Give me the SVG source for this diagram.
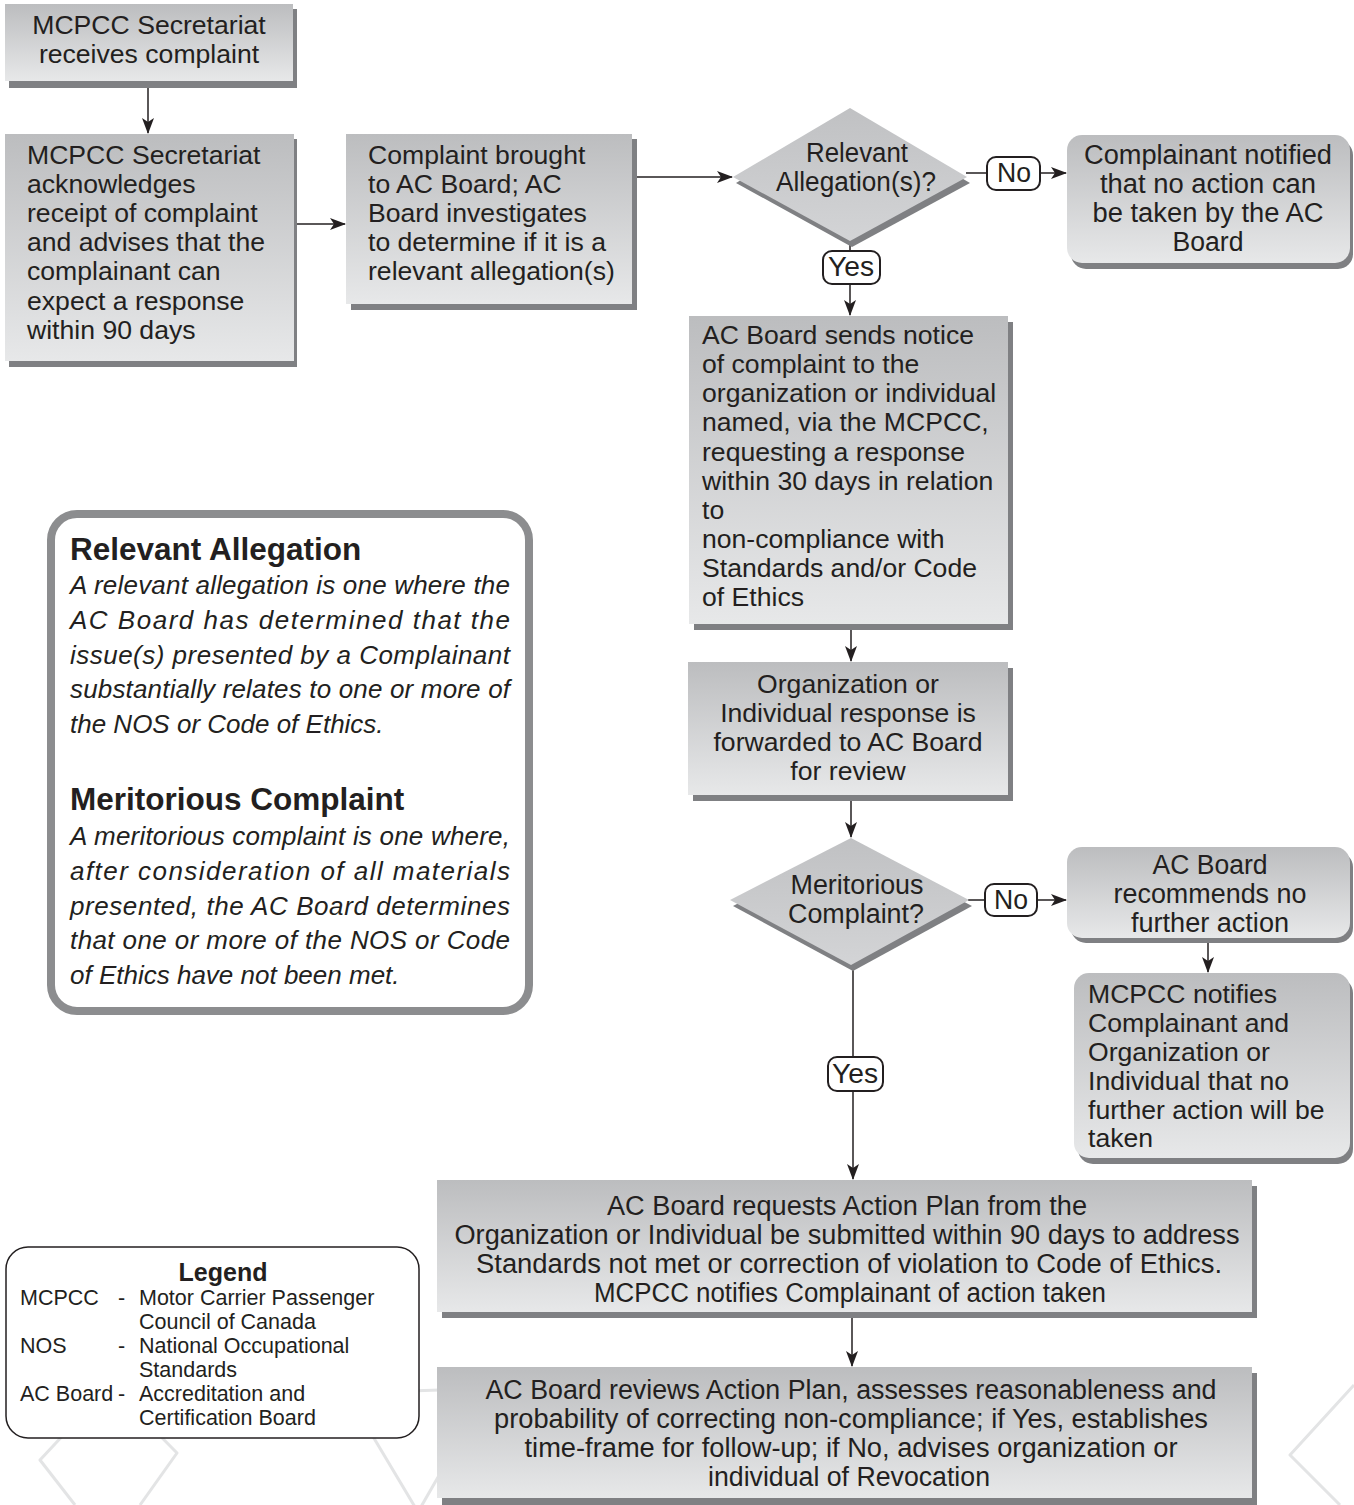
<svg xmlns="http://www.w3.org/2000/svg" width="1354" height="1505" viewBox="0 0 1354 1505">
<defs>
<linearGradient id="gbox" x1="0" y1="0" x2="0" y2="1">
<stop offset="0" stop-color="#bcbdbf"/>
<stop offset="1" stop-color="#e7e8e9"/>
</linearGradient>
<linearGradient id="gdia" x1="0" y1="0" x2="0" y2="1">
<stop offset="0" stop-color="#c0c1c3"/>
<stop offset="1" stop-color="#d3d4d6"/>
</linearGradient>
<marker id="arr" viewBox="0 0 16 12" refX="15" refY="6" markerWidth="16" markerHeight="12" markerUnits="userSpaceOnUse" orient="auto">
<path d="M0,0 L16,6 L0,12 L4,6 z" fill="#231f20"/>
</marker>
<style>
text{font-family:"Liberation Sans",Arial,sans-serif;fill:#231f20}
.t{font-size:26.6px}
.c{font-size:27px;text-anchor:middle}
.m{text-anchor:middle}
.box{fill:url(#gbox)}
.sh{fill:#7f8083}
.dia{fill:url(#gdia)}
.lbl{fill:#fff;stroke:#231f20;stroke-width:2}
.ln{stroke:#231f20;stroke-width:1.5;fill:none}
.ar{stroke:#231f20;stroke-width:1.5;fill:none;marker-end:url(#arr)}
.bg{stroke:#e3e4e5;stroke-width:3;fill:none;stroke-linejoin:round}
.it{font-size:26px;font-style:italic}
.hd{font-size:31.5px;font-weight:bold}
.lg{font-size:21.5px}
</style>
</defs>
<rect width="1354" height="1505" fill="#fff"/>
<g id="background">
<polyline class="bg" points="75,1505 40,1460 110,1385 177,1453 140,1505"/>
<polyline class="bg" points="440,1390 347,1393 418,1512 445,1465"/>
<polyline class="bg" points="1354,1385 1290,1455 1340,1505"/>
</g>
<g id="connectors">
<line class="ar" x1="148" y1="88" x2="148" y2="133"/>
<line class="ar" x1="297" y1="224" x2="345" y2="224"/>
<line class="ar" x1="636" y1="177" x2="732" y2="177"/>
<line class="ln" x1="966" y1="173" x2="987" y2="173"/>
<line class="ar" x1="1040" y1="173" x2="1066" y2="173"/>
<line class="ln" x1="850" y1="240" x2="850" y2="251"/>
<line class="ar" x1="850" y1="284" x2="850" y2="315"/>
<line class="ar" x1="851" y1="628" x2="851" y2="661"/>
<line class="ar" x1="851" y1="800" x2="851" y2="837"/>
<line class="ln" x1="968" y1="900" x2="987" y2="900"/>
<line class="ar" x1="1037" y1="900" x2="1066" y2="900"/>
<line class="ar" x1="1208" y1="943" x2="1208" y2="972"/>
<line class="ln" x1="853" y1="966" x2="853" y2="1057"/>
<line class="ar" x1="853" y1="1091" x2="853" y2="1179"/>
<line class="ar" x1="852" y1="1318" x2="852" y2="1366"/>
</g>
<g id="n1">
<rect class="sh" x="9" y="9" width="288" height="79"/>
<rect class="box" x="5" y="4" width="288" height="77"/>
<text class="t m" x="149" y="34">MCPCC Secretariat</text>
<text class="t m" x="149" y="63">receives complaint</text>
</g>
<g id="n2">
<rect class="sh" x="9" y="139" width="288" height="228"/>
<rect class="box" x="5" y="134" width="289" height="227"/>
<text class="t" x="27" y="164">MCPCC Secretariat</text>
<text class="t" x="27" y="193">acknowledges</text>
<text class="t" x="27" y="222">receipt of complaint</text>
<text class="t" x="27" y="251">and advises that the</text>
<text class="t" x="27" y="280">complainant can</text>
<text class="t" x="27" y="310">expect a response</text>
<text class="t" x="27" y="339">within 90 days</text>
</g>
<g id="n3">
<rect class="sh" x="351" y="139" width="286" height="171"/>
<rect class="box" x="346" y="134" width="286" height="170"/>
<text class="t" x="368" y="164">Complaint brought</text>
<text class="t" x="368" y="193">to AC Board; AC</text>
<text class="t" x="368" y="222">Board investigates</text>
<text class="t" x="368" y="251">to determine if it is a</text>
<text class="t" x="368" y="280">relevant allegation(s)</text>
</g>
<g id="d1">
<polygon class="sh" points="852,114 970,183 852,247 736,183"/>
<polygon class="dia" points="850,108 967,177 850,241 733,177"/>
<text class="c" x="857" y="162" textLength="102" lengthAdjust="spacingAndGlyphs">Relevant</text>
<text class="c" x="856" y="191" textLength="160" lengthAdjust="spacingAndGlyphs">Allegation(s)?</text>
</g>
<g id="l_no1">
<rect class="lbl" x="987" y="157" width="53" height="33" rx="9"/>
<text class="c" x="1014" y="182" textLength="34" lengthAdjust="spacingAndGlyphs">No</text>
</g>
<g id="l_yes1">
<rect class="lbl" x="823" y="251" width="57" height="33" rx="9"/>
<text class="c" x="851" y="276" textLength="46" lengthAdjust="spacingAndGlyphs">Yes</text>
</g>
<g id="n_notified">
<rect class="sh" x="1071" y="140" width="282" height="129" rx="15"/>
<rect class="box" x="1067" y="135" width="283" height="128" rx="15"/>
<text class="c" x="1208" y="164" textLength="248" lengthAdjust="spacingAndGlyphs">Complainant notified</text>
<text class="c" x="1208" y="193" textLength="216" lengthAdjust="spacingAndGlyphs">that no action can</text>
<text class="c" x="1208" y="222" textLength="231" lengthAdjust="spacingAndGlyphs">be taken by the AC</text>
<text class="c" x="1208" y="251" textLength="71" lengthAdjust="spacingAndGlyphs">Board</text>
</g>
<g id="n4">
<rect class="sh" x="694" y="322" width="319" height="308"/>
<rect class="box" x="689" y="316" width="319" height="308"/>
<text class="t" x="702" y="344">AC Board sends notice</text>
<text class="t" x="702" y="373">of complaint to the</text>
<text class="t" x="702" y="402">organization or individual</text>
<text class="t" x="702" y="431">named, via the MCPCC,</text>
<text class="t" x="702" y="461">requesting a response</text>
<text class="t" x="702" y="490">within 30 days in relation</text>
<text class="t" x="702" y="519">to</text>
<text class="t" x="702" y="548">non-compliance with</text>
<text class="t" x="702" y="577">Standards and/or Code</text>
<text class="t" x="702" y="606">of Ethics</text>
</g>
<g id="n5">
<rect class="sh" x="693" y="668" width="320" height="133"/>
<rect class="box" x="688" y="662" width="320" height="133"/>
<text class="t m" x="848" y="693">Organization or</text>
<text class="t m" x="848" y="722">Individual response is</text>
<text class="t m" x="848" y="751">forwarded to AC Board</text>
<text class="t m" x="848" y="780">for review</text>
</g>
<g id="d2">
<polygon class="sh" points="853,844 972,906 853,971 733,906"/>
<polygon class="dia" points="851,838 969,900 851,965 730,900"/>
<text class="c" x="857" y="894" textLength="133" lengthAdjust="spacingAndGlyphs">Meritorious</text>
<text class="c" x="856" y="923" textLength="136" lengthAdjust="spacingAndGlyphs">Complaint?</text>
</g>
<g id="l_no2">
<rect class="lbl" x="985" y="884" width="52" height="32" rx="9"/>
<text class="c" x="1011" y="909" textLength="34" lengthAdjust="spacingAndGlyphs">No</text>
</g>
<g id="l_yes2">
<rect class="lbl" x="828" y="1057" width="55" height="34" rx="9"/>
<text class="c" x="855" y="1083" textLength="46" lengthAdjust="spacingAndGlyphs">Yes</text>
</g>
<g id="n_nofurther">
<rect class="sh" x="1071" y="852" width="282" height="91" rx="15"/>
<rect class="box" x="1067" y="847" width="283" height="91" rx="15"/>
<text class="c" x="1210" y="874" textLength="115" lengthAdjust="spacingAndGlyphs">AC Board</text>
<text class="c" x="1210" y="903" textLength="193" lengthAdjust="spacingAndGlyphs">recommends no</text>
<text class="c" x="1210" y="932" textLength="158" lengthAdjust="spacingAndGlyphs">further action</text>
</g>
<g id="n_mcpccnotifies">
<rect class="sh" x="1078" y="978" width="275" height="186" rx="15"/>
<rect class="box" x="1074" y="973" width="276" height="185" rx="15"/>
<text class="t" x="1088" y="1003">MCPCC notifies</text>
<text class="t" x="1088" y="1032">Complainant and</text>
<text class="t" x="1088" y="1061">Organization or</text>
<text class="t" x="1088" y="1090">Individual that no</text>
<text class="t" x="1088" y="1119">further action will be</text>
<text class="t" x="1088" y="1147">taken</text>
</g>
<g id="n_actionplan">
<rect class="sh" x="442" y="1186" width="815" height="132"/>
<rect class="box" x="437" y="1180" width="815" height="132"/>
<text class="c" x="847" y="1215" textLength="480" lengthAdjust="spacingAndGlyphs">AC Board requests Action Plan from the</text>
<text class="c" x="847" y="1244" textLength="785" lengthAdjust="spacingAndGlyphs">Organization or Individual be submitted within 90 days to address</text>
<text class="c" x="849" y="1273" textLength="746" lengthAdjust="spacingAndGlyphs">Standards not met or correction of violation to Code of Ethics.</text>
<text class="c" x="850" y="1302" textLength="512" lengthAdjust="spacingAndGlyphs">MCPCC notifies Complainant of action taken</text>
</g>
<g id="n_review">
<rect class="sh" x="442" y="1373" width="815" height="132"/>
<rect class="box" x="437" y="1367" width="815" height="131"/>
<text class="c" x="851" y="1399" textLength="731" lengthAdjust="spacingAndGlyphs">AC Board reviews Action Plan, assesses reasonableness and</text>
<text class="c" x="851" y="1428" textLength="714" lengthAdjust="spacingAndGlyphs">probability of correcting non-compliance; if Yes, establishes</text>
<text class="c" x="851" y="1457" textLength="653" lengthAdjust="spacingAndGlyphs">time-frame for follow-up; if No, advises organization or</text>
<text class="c" x="849" y="1486" textLength="282" lengthAdjust="spacingAndGlyphs">individual of Revocation</text>
</g>
<g id="definitions">
<rect x="51" y="514" width="478" height="497" rx="26" fill="#fff" stroke="#8c8d8f" stroke-width="8"/>
<text class="hd" x="70" y="560">Relevant Allegation</text>
<text class="it" x="70" y="594" textLength="440" lengthAdjust="spacing">A relevant allegation is one where the</text>
<text class="it" x="70" y="629" textLength="440" lengthAdjust="spacing">AC Board has determined that the</text>
<text class="it" x="70" y="664" textLength="440" lengthAdjust="spacing">issue(s) presented by a Complainant</text>
<text class="it" x="70" y="698" textLength="440" lengthAdjust="spacing">substantially relates to one or more of</text>
<text class="it" x="70" y="733">the NOS or Code of Ethics.</text>
<text class="hd" x="70" y="810">Meritorious Complaint</text>
<text class="it" x="70" y="845" textLength="440" lengthAdjust="spacing">A meritorious complaint is one where,</text>
<text class="it" x="70" y="880" textLength="440" lengthAdjust="spacing">after consideration of all materials</text>
<text class="it" x="70" y="915" textLength="440" lengthAdjust="spacing">presented, the AC Board determines</text>
<text class="it" x="70" y="949" textLength="440" lengthAdjust="spacing">that one or more of the NOS or Code</text>
<text class="it" x="70" y="984">of Ethics have not been met.</text>
</g>
<g id="legend">
<rect x="6" y="1247" width="413" height="191" rx="22" fill="#fff" stroke="#231f20" stroke-width="1.5"/>
<text x="223" y="1281" font-size="25" font-weight="bold" text-anchor="middle">Legend</text>
<text class="lg" x="20" y="1305">MCPCC</text>
<text class="lg" x="118" y="1305">-</text>
<text class="lg" x="139" y="1305">Motor Carrier Passenger</text>
<text class="lg" x="139" y="1329">Council of Canada</text>
<text class="lg" x="20" y="1353">NOS</text>
<text class="lg" x="118" y="1353">-</text>
<text class="lg" x="139" y="1353">National Occupational</text>
<text class="lg" x="139" y="1377">Standards</text>
<text class="lg" x="20" y="1401">AC Board</text>
<text class="lg" x="118" y="1401">-</text>
<text class="lg" x="139" y="1401">Accreditation and</text>
<text class="lg" x="139" y="1425">Certification Board</text>
</g>
</svg>
